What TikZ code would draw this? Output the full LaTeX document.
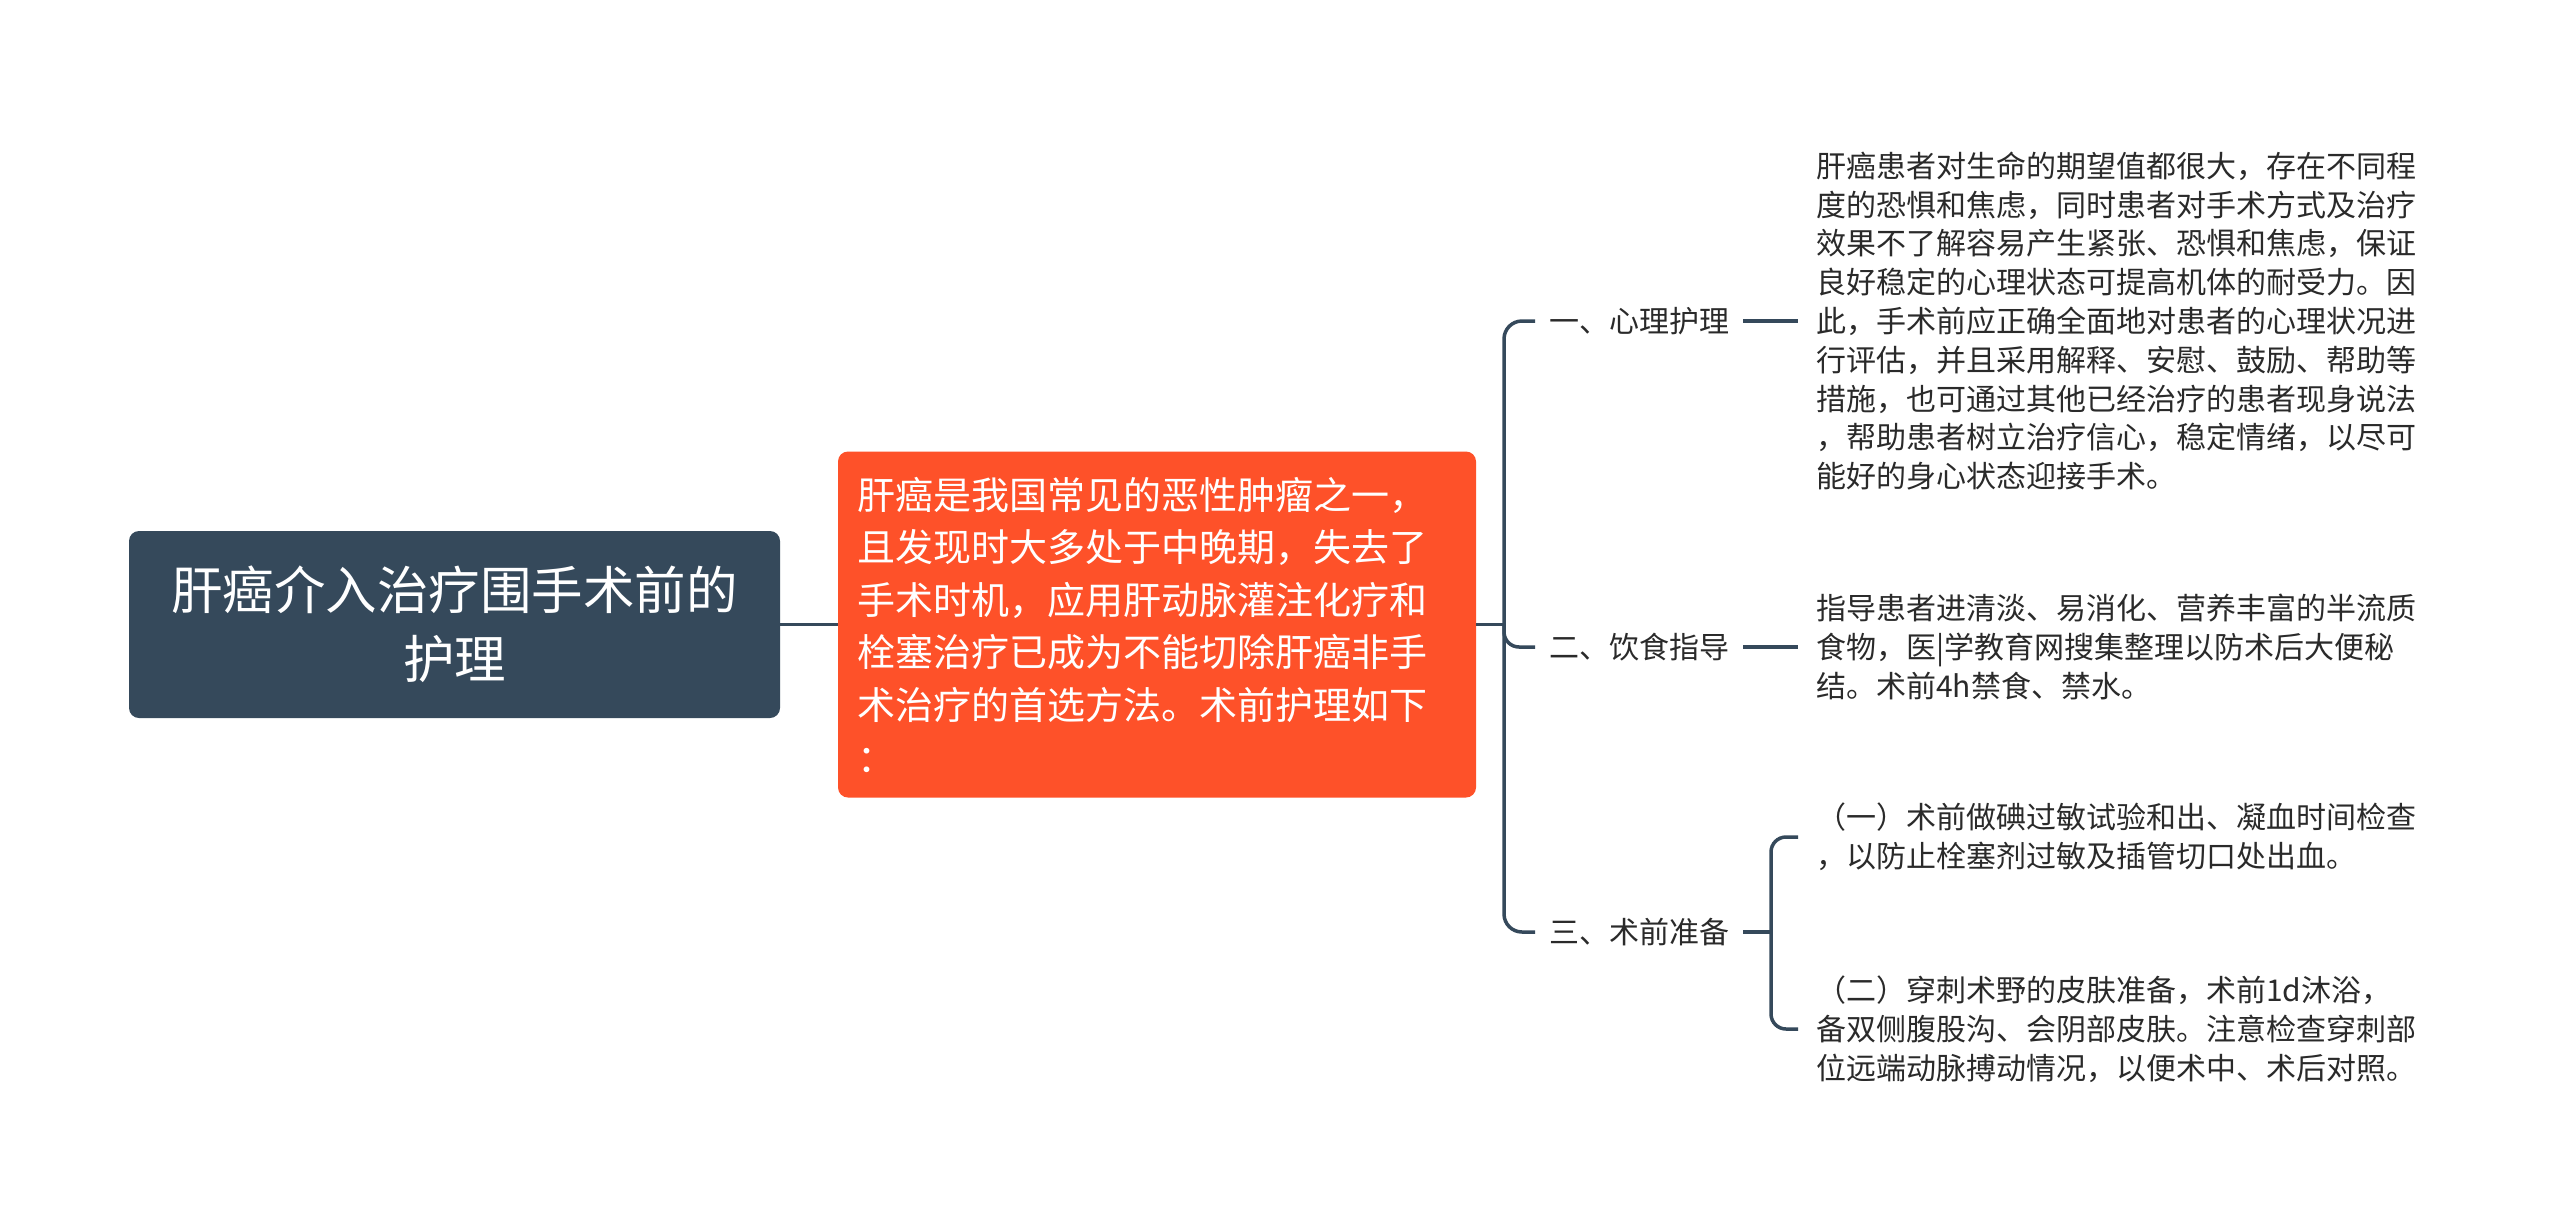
\documentclass[tikz,border=0pt]{standalone}
\usepackage{fontspec}
\setmainfont{Noto Sans CJK SC}
\definecolor{slate}{HTML}{35495B}
\definecolor{orng}{HTML}{FE5129}
\definecolor{txt}{HTML}{2A2A2A}
\begin{document}
\begin{tikzpicture}[x=1pt,y=-1pt,
  conn/.style={draw=slate,line width=3.5pt},
  rootbox/.style={fill=slate,rounded corners=10pt,text=white,font=\fontsize{51.5}{69}\selectfont,align=center,minimum width=651pt,minimum height=187pt,inner sep=0pt},
  introbox/.style={fill=orng,rounded corners=10pt,text=white,font=\fontsize{38}{52.6}\selectfont,text width=600pt,align=left,minimum height=346pt,inner xsep=19pt,inner ysep=0pt},
  branch/.style={text=txt,font=\fontsize{30}{38.8}\selectfont,inner xsep=14pt,inner ysep=4pt,anchor=west},
  leaf/.style={text=txt,font=\fontsize{30}{38.8}\selectfont,text width=610pt,align=left,inner xsep=18pt,inner ysep=4pt,anchor=west},
]
\fill[white] (0,0) rectangle (2560,1229);
\useasboundingbox (0,0) rectangle (2560,1229);

\node[rootbox] (root) at (454.5,624.5) {肝癌介入治疗围手术前的\\护理};
\node[introbox] (intro) at (1157,624.5) {肝癌是我国常见的恶性肿瘤之一，\\且发现时大多处于中晚期，失去了\\手术时机，应用肝动脉灌注化疗和\\栓塞治疗已成为不能切除肝癌非手\\术治疗的首选方法。术前护理如下\\：};

\node[branch] (b1) at (1535,321) {一、心理护理};
\node[branch] (b2) at (1535,647) {二、饮食指导};
\node[branch] (b3) at (1535,932) {三、术前准备};

\node[leaf] (l1) at (1798,321) {肝癌患者对生命的期望值都很大，存在不同程\\度的恐惧和焦虑，同时患者对手术方式及治疗\\效果不了解容易产生紧张、恐惧和焦虑，保证\\良好稳定的心理状态可提高机体的耐受力。因\\此，手术前应正确全面地对患者的心理状况进\\行评估，并且采用解释、安慰、鼓励、帮助等\\措施，也可通过其他已经治疗的患者现身说法\\，帮助患者树立治疗信心，稳定情绪，以尽可\\能好的身心状态迎接手术。};
\node[leaf] (l2) at (1798,647) {指导患者进清淡、易消化、营养丰富的半流质\\食物，医|学教育网搜集整理以防术后大便秘\\结。术前4h禁食、禁水。};
\node[leaf] (s1) at (1798,837) {（一）术前做碘过敏试验和出、凝血时间检查\\，以防止栓塞剂过敏及插管切口处出血。};
\node[leaf] (s2) at (1798,1029) {（二）穿刺术野的皮肤准备，术前1d沐浴，\\备双侧腹股沟、会阴部皮肤。注意检查穿刺部\\位远端动脉搏动情况，以便术中、术后对照。};

\coordinate (j1) at (1504,624.5);
\coordinate (j2) at (1771,932);

\draw[conn] (root.east) -- (intro.west);
\draw[conn] (intro.east) -- (j1);
\draw[conn,rounded corners=18pt] (b1.west) -| (j1) |- (b3.west);
\draw[conn,rounded corners=15pt] (j1) |- (b2.west);
\draw[conn] (b1.east) -- (l1.west);
\draw[conn] (b2.east) -- (l2.west);
\draw[conn] (b3.east) -- (j2);
\draw[conn,rounded corners=15pt] (s1.west) -| (j2) |- (s2.west);
\end{tikzpicture}
\end{document}
